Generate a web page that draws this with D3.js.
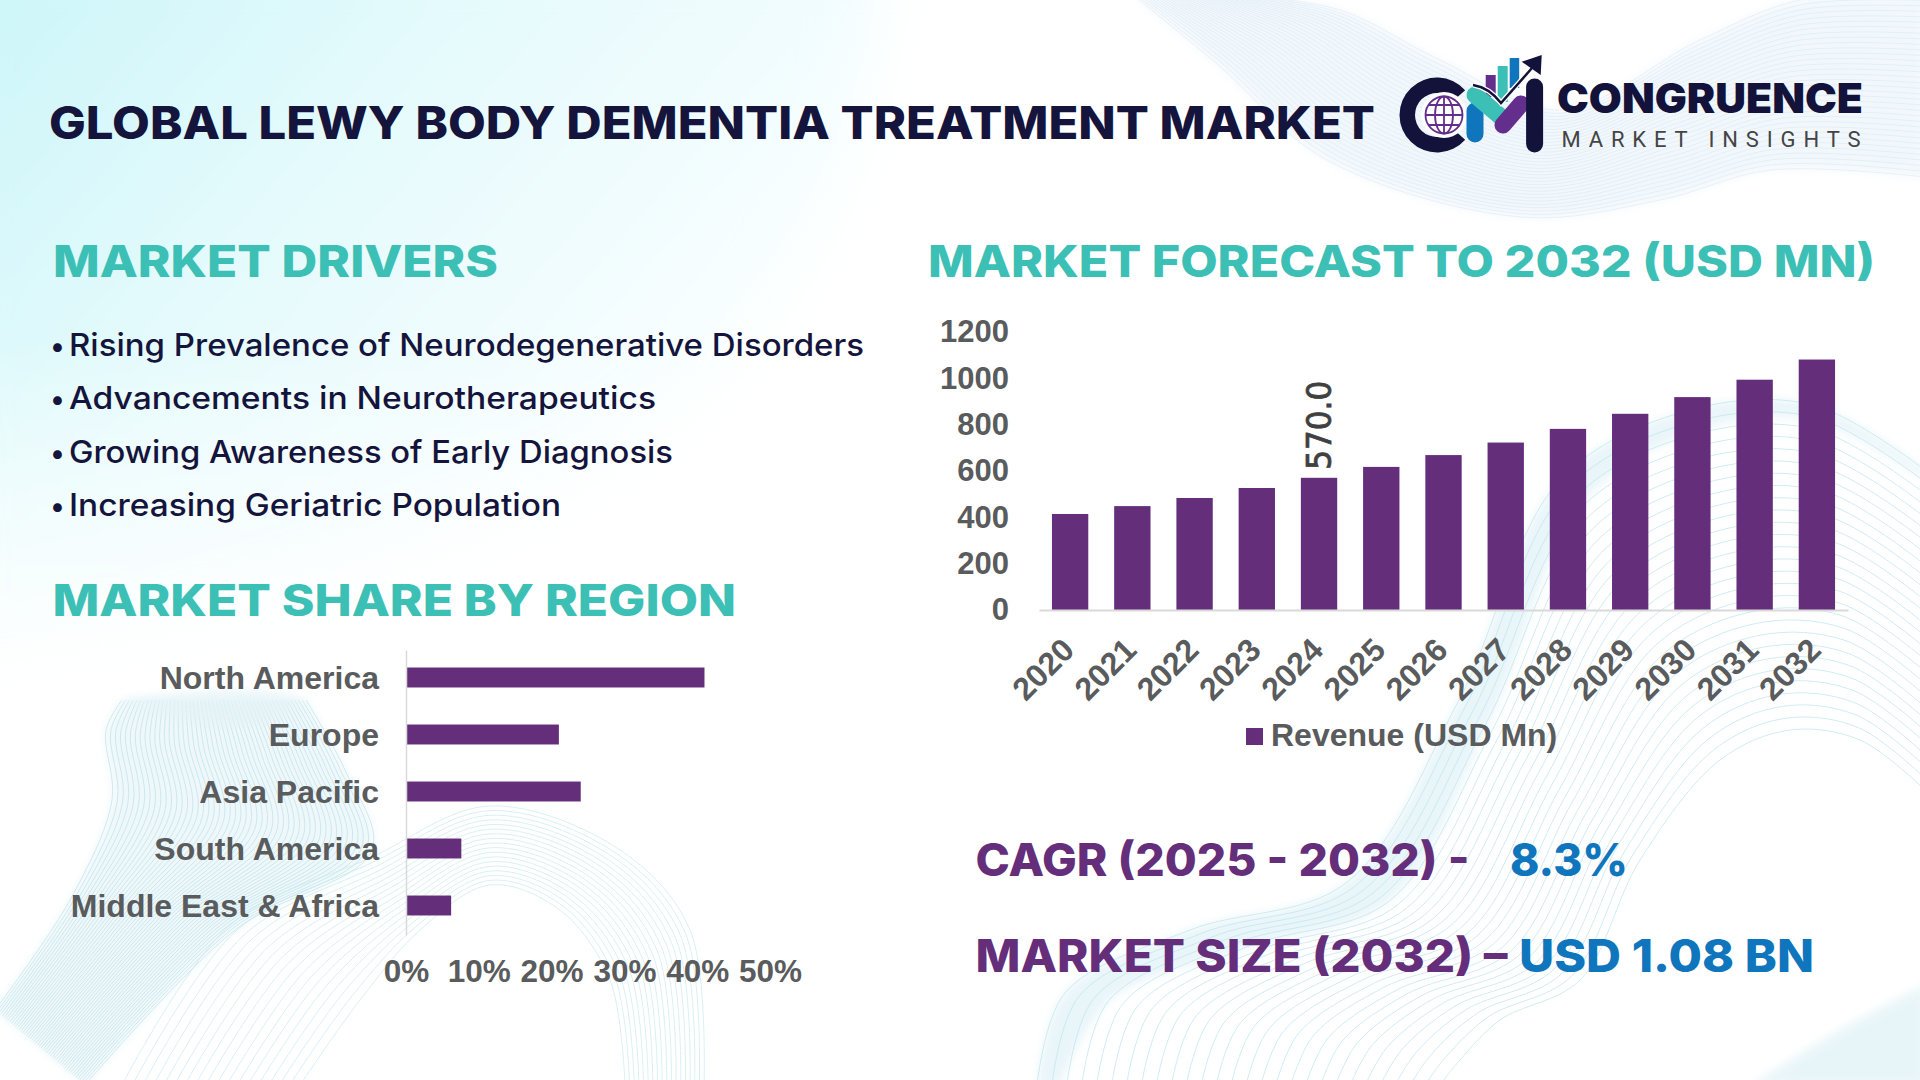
<!DOCTYPE html>
<html><head><meta charset="utf-8">
<style>html,body{margin:0;padding:0;background:#fff;overflow:hidden}svg{display:block}</style>
<script src="https://cdn.jsdelivr.net/npm/d3@7"></script></head>
<body><svg id="c" width="1920" height="1080" viewBox="0 0 1920 1080"></svg>
<script>
const years=["2020","2021","2022","2023","2024","2025","2026","2027","2028","2029","2030","2031","2032"];
const revenue=[414,448,483,526,570,617,668,722,781,846,918,993,1080];
const revenueTicks=[0,200,400,600,800,1000,1200];
const regions=["North America","Europe","Asia Pacific","South America","Middle East & Africa"];
const regionShare=[41,21,24,7.6,6.2];
const shareTicks=[0,10,20,30,40,50];
const drivers=["Rising Prevalence of Neurodegenerative Disorders","Advancements in Neurotherapeutics","Growing Awareness of Early Diagnosis","Increasing Geriatric Population"];
const seriesName="Revenue (USD Mn)";
const labelledYear="2024";

const PURPLE="#642e7b",GRAY="#595b5c",TEAL="#3cc0b5",NAVY="#14143c",BLUE="#0f75bc",AXIS="#d9d9d9";
const svg=d3.select("#c");
const defs=svg.append("defs");
const g1=defs.append("linearGradient").attr("id","wash").attr("x1",0).attr("y1",0).attr("x2",1).attr("y2",.7);
[[0,"#c8f5f8"],[.4,"#e4fafc"],[.8,"#f8feff"],[1,"#ffffff"]].forEach(s=>g1.append("stop").attr("offset",s[0]).attr("stop-color",s[1]));
const g2=defs.append("linearGradient").attr("id","washDown").attr("x1",0).attr("y1",0).attr("x2",0).attr("y2",1);
[[0,"#ffffff"],[.55,"#ffffff"],[1,"#000000"]].forEach(s=>g2.append("stop").attr("offset",s[0]).attr("stop-color",s[1]));
defs.append("mask").attr("id","fadeDown").append("rect").attr("x",-100).attr("y",-100).attr("width",1300).attr("height",800).attr("fill","url(#washDown)");
defs.append("filter").attr("id","blur").attr("x","-20%").attr("y","-20%").attr("width","140%").attr("height","140%").append("feGaussianBlur").attr("stdDeviation",30);
defs.append("filter").attr("id","blur2").append("feGaussianBlur").attr("stdDeviation",5);

const bg=svg.append("g");
bg.append("rect").attr("width",1920).attr("height",1080).attr("fill","#fff");
bg.append("g").attr("mask","url(#fadeDown)").append("path").attr("d","M-60,-60 L880,-60 C880,120 820,310 640,440 C470,560 220,620 -60,690 Z").attr("fill","url(#wash)").attr("filter","url(#blur)");

const smooth=d3.line().curve(d3.curveCatmullRom.alpha(.5));
function band(a,b,n,color,op,w){
  const g=bg.append("g").attr("fill","none").attr("stroke",color).attr("stroke-width",w).attr("opacity",op);
  d3.range(n).forEach(i=>{
    const t=i/(n-1);
    g.append("path").attr("d",smooth(a.map((p,k)=>[p[0]+(b[k][0]-p[0])*t,p[1]+(b[k][1]-p[1])*t])));
  });
}
function wash(a,b,color,op){
  bg.append("path").attr("d",smooth(a)+"L"+smooth(b.slice().reverse()).slice(1)+"Z").attr("fill",color).attr("opacity",op).attr("filter","url(#blur2)");
}
// top-right mesh
const trA=[[1133,-5],[1216,63],[1327,160],[1521,217],[1660,200],[1771,170],[1925,177]];
const trB=[[1240,-5],[1340,10],[1440,60],[1560,110],[1700,40],[1800,0],[1925,-5]];
wash(trA,trB,"#eef5fb",.75);
band(trA,trB,34,"#dbe9f5",.6,1);
// bottom-left mesh: left ribbon
const blA=[[122,700],[106,730],[112,800],[70,900],[-5,1010]];
const blB=[[306,700],[345,770],[372,850],[235,930],[85,1085]];
wash(blA,blB,"#e3f3f7",.6);
band(blA,blB,50,"#b4dde6",.6,1);
const blTopA=[[122,700],[160,695],[220,690],[270,692],[306,700]];
const blTopB=[[122,700],[170,715],[220,725],[270,720],[306,700]];
wash(blTopA,blTopB,"#e3f3f7",.7);
// bottom-left second lobe: nested arches
const arA=[[122,1085],[230,925],[370,858],[490,806],[620,850],[690,930],[704,1085]];
const arB=[[300,1085],[360,1000],[420,930],[490,885],[560,910],[610,980],[625,1085]];
band(arA,arB,18,"#c8e9ee",.7,1);
// bottom-right mesh: nested arches
const brA=[[1037,1085],[1065,993],[1190,930],[1346,883],[1459,700],[1560,480],[1690,410],[1813,405],[1925,470]];
const brB=[[1440,1085],[1460,1060],[1500,1020],[1580,980],[1640,860],[1720,760],[1790,730],[1860,740],[1925,790]];
wash(brA,[[1060,1085],[1110,1000],[1240,950],[1390,900],[1490,720],[1585,500],[1700,430],[1813,420],[1925,480]],"#e3f3f8",.8);
band(brA,brB,28,"#c5e6ee",.8,1);
wash([[1752,1085],[1840,1030],[1925,985]],[[1925,1085],[1925,1040],[1925,1000]],"#e6f4f8",.9);

function txt(s,x,y,o){
  const t=svg.append("text").attr("x",x).attr("y",y).text(s)
   .attr("font-family",o.f||"Inter").attr("font-size",o.s).attr("font-weight",o.w||700).attr("fill",o.c);
  if(o.len)t.attr("textLength",o.len).attr("lengthAdjust",o.adj||"spacingAndGlyphs");
  return t;
}
// title + headings
txt("GLOBAL LEWY BODY DEMENTIA TREATMENT MARKET",49,138.6,{s:45,w:800,c:NAVY,len:1326});
txt("MARKET DRIVERS",53,277,{s:44,w:800,c:TEAL,len:445});
txt("MARKET SHARE BY REGION",52.5,616,{s:44,w:800,c:TEAL,len:683.5});
txt("MARKET FORECAST TO 2032 (USD MN)",928,277,{s:44,w:800,c:TEAL,len:947});
// drivers list
const driverY=d3.scalePoint().domain(drivers).range([356,516]);
const driverLen=[795,587,604,492];
drivers.forEach((d,i)=>{
  txt("•",50,driverY(d),{s:28,w:500,c:NAVY});
  txt(d,69,driverY(d),{s:31,w:500,c:NAVY,len:driverLen[i]});
});
// KPI text
txt("CAGR (2025 - 2032) -",975.5,876,{s:45,w:800,c:PURPLE,len:494});
txt("8.3%",1510,876,{s:45,w:800,c:BLUE,len:118});
txt("MARKET SIZE (2032) –",975.5,972,{s:45,w:800,c:PURPLE,len:532});
txt("USD 1.08 BN",1519,972,{s:45,w:800,c:BLUE,len:295});

// Forecast bars
const fx=d3.scaleBand().domain(years).range([1039,1848]).paddingInner(.416).paddingOuter(.208);
const fy=d3.scaleLinear().domain([0,1200]).range([610,331.7]);
const axisFont=(g,s)=>g.attr("font-family","'Liberation Sans',Arial,sans-serif").attr("font-size",s||32).attr("font-weight",700);
svg.append("g").selectAll("rect").data(years).join("rect")
  .attr("x",d=>fx(d)).attr("width",fx.bandwidth())
  .attr("y",(d,i)=>fy(revenue[i])).attr("height",(d,i)=>fy(0)-fy(revenue[i])).attr("fill",PURPLE);
const fl=svg.append("g").attr("transform","translate(1039,0)").call(d3.axisLeft(fy).tickValues(revenueTicks).tickSize(0).tickPadding(30).tickFormat(d3.format("d"))).call(axisFont,31);
fl.select(".domain").remove(); fl.selectAll("text").attr("fill",GRAY);
const fb=svg.append("g").attr("transform","translate(0,610)").call(d3.axisBottom(fx).tickSize(0).tickPadding(0)).call(axisFont,32);
fb.select(".domain").attr("stroke",AXIS).attr("stroke-width",2);
fb.selectAll("text").attr("fill",GRAY).attr("text-anchor","end").attr("dy",0).attr("y",0)
  .attr("transform","translate(6,42) rotate(-45)");
// data label
const li=years.indexOf(labelledYear);
svg.append("text").text(revenue[li].toFixed(1))
  .attr("transform",`translate(${fx(labelledYear)+fx.bandwidth()/2+12},${fy(revenue[li])-8}) rotate(-90)`)
  .attr("textLength",89).attr("lengthAdjust","spacingAndGlyphs")
  .attr("font-family","'DejaVu Sans',sans-serif").attr("font-size",33).attr("font-weight",400)
  .attr("stroke","#404040").attr("stroke-width",.8).attr("fill","#404040");
// legend
const leg=svg.append("g");
leg.append("rect").attr("x",1246).attr("y",728).attr("width",17).attr("height",17).attr("fill",PURPLE);
leg.append("text").attr("x",1271).attr("y",746).text(seriesName).attr("fill",GRAY).call(axisFont,32);

// Region bars
const rx=d3.scaleLinear().domain([0,50]).range([406,770]);
const ry=d3.scaleBand().domain(regions).range([649,934]).paddingInner(.65).paddingOuter(.325);
svg.append("g").selectAll("rect").data(regions).join("rect")
  .attr("x",rx(0)).attr("y",d=>ry(d)).attr("height",ry.bandwidth())
  .attr("width",(d,i)=>rx(regionShare[i])-rx(0)).attr("fill",PURPLE);
const rl=svg.append("g").attr("transform","translate(406,1)").call(d3.axisLeft(ry).tickSize(0).tickPadding(27)).call(axisFont,32);
rl.select(".domain").attr("stroke",AXIS).attr("stroke-width",1.5);
rl.selectAll("text").attr("fill",GRAY);
const rb=svg.append("g").attr("transform","translate(0,958)").call(d3.axisBottom(rx).tickValues(shareTicks).tickSize(0).tickPadding(0).tickFormat(d=>d+"%")).call(axisFont,31.5);
rb.select(".domain").remove(); rb.selectAll("text").attr("fill",GRAY).attr("y",2);

// Logo
const lg=svg.append("g");
const DK="#12123a",LB="#0f75bc",LT="#3cc0b5",LP="#642e8c";
lg.append("path").attr("d",d3.arc().innerRadius(22).outerRadius(37.5).startAngle(Math.PI/2+.72).endAngle(Math.PI*2.5-.72)()).attr("transform","translate(1437,115)").attr("fill",DK);
lg.append("circle").attr("cx",1444).attr("cy",115).attr("r",23).attr("fill","#fff");
const gl=lg.append("g").attr("fill","none").attr("stroke",LP).attr("stroke-width",1.8);
gl.append("circle").attr("cx",1444).attr("cy",115).attr("r",18.5);
gl.append("ellipse").attr("cx",1444).attr("cy",115).attr("rx",9).attr("ry",18.5);
gl.append("path").attr("d","M1444,96.5V133.5M1426,115H1462M1429,105H1459M1429,125H1459");
[[1485.7,75,10,22,LP],[1497.7,66,10,36,LT],[1509.7,58,9.5,30,LB]].forEach(b=>lg.append("rect").attr("x",b[0]).attr("y",b[1]).attr("width",b[2]).attr("height",b[3]).attr("fill",b[4]));
const stem=(d,c)=>lg.append("path").attr("d",d).attr("stroke",c).attr("stroke-width",17).attr("stroke-linecap","round").attr("fill","none");
stem("M1475,111V134",LB);
stem("M1475,95L1501,117",LT);
stem("M1503,125L1521,104",LP);
stem("M1534.6,87V144",DK);
lg.append("path").attr("d","M1473,85C1486,87 1494,94 1501,103L1532,68").attr("fill","none").attr("stroke","#fff").attr("stroke-width",5);
lg.append("path").attr("d","M1473,85C1486,87 1494,94 1501,103L1532,68").attr("fill","none").attr("stroke",DK).attr("stroke-width",2.5);
lg.append("path").attr("d","M1521.7,61.7L1541.7,55L1540.7,75Z").attr("fill",DK);
txt("CONGRUENCE",1557,113,{s:41,w:900,c:DK,len:306});
txt("MARKET INSIGHTS",1561.5,147,{s:22,w:400,c:"#444",f:"Roboto",len:299,adj:"spacing"});
</script></body></html>
